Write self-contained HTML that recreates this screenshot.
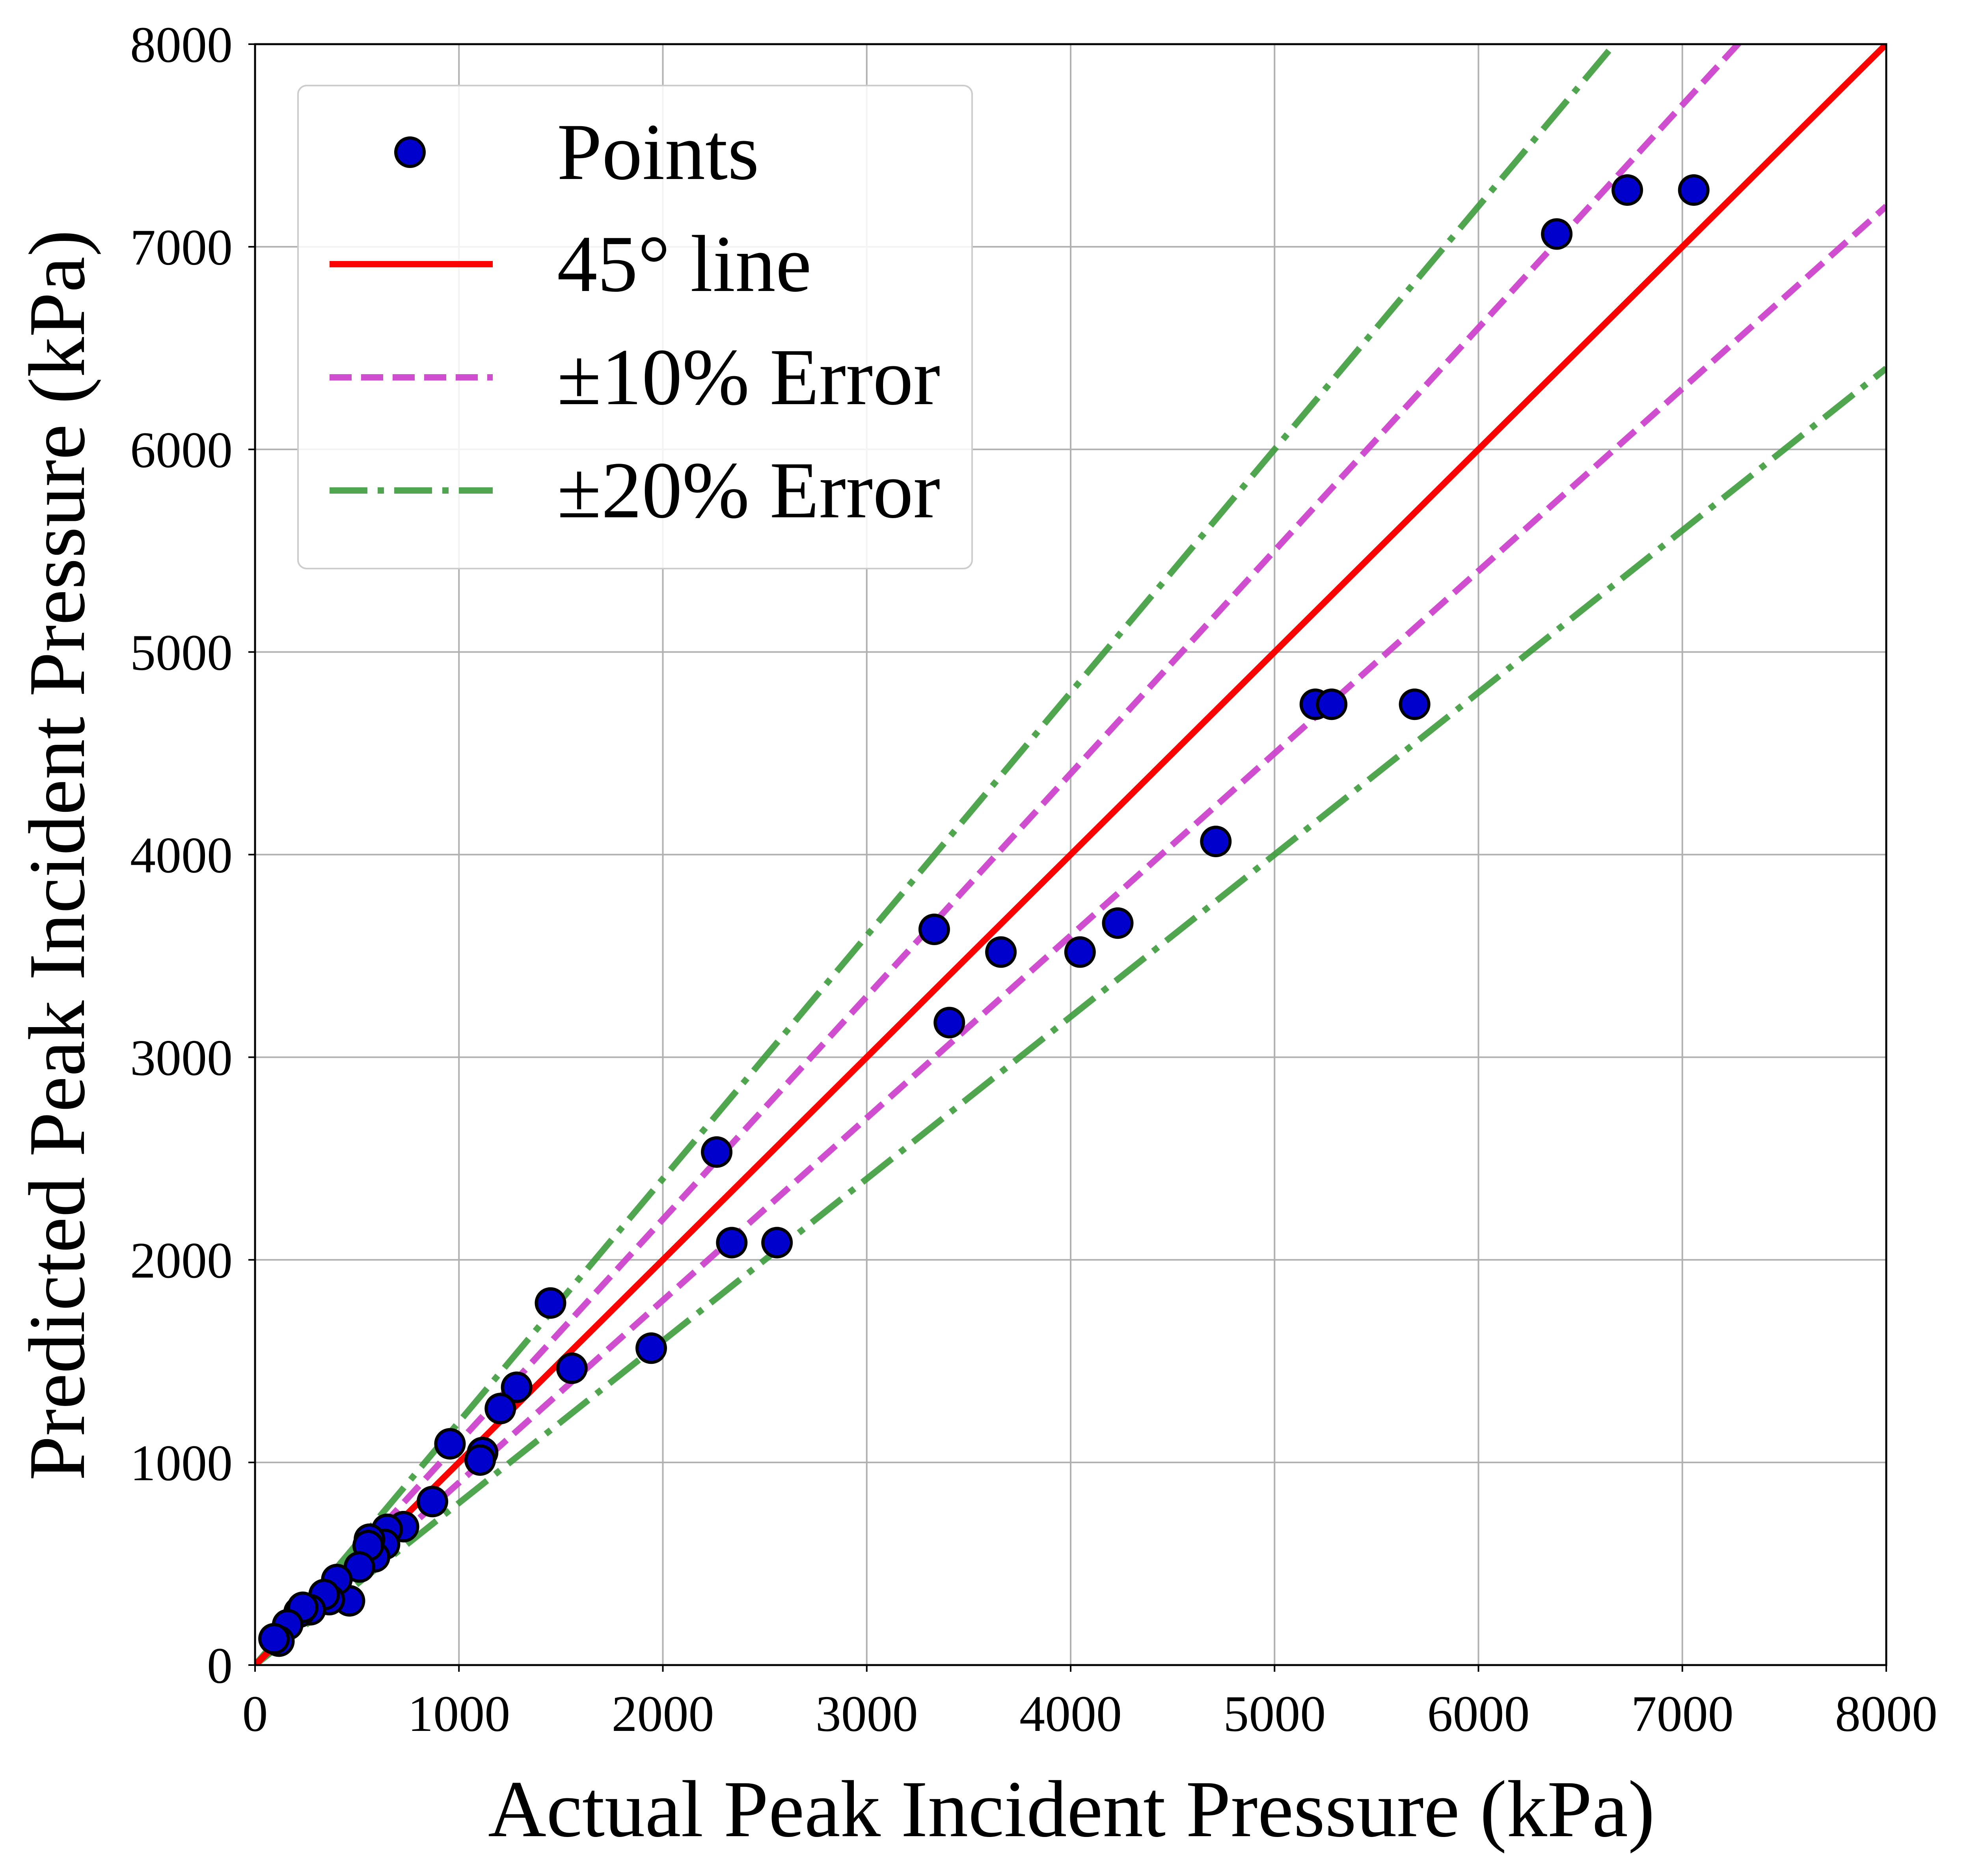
<!DOCTYPE html>
<html><head><meta charset="utf-8">
<style>
html,body{margin:0;padding:0;background:#fff;}
svg{display:block;}
text{font-family:"Liberation Serif",serif;fill:#000;}
</style></head>
<body>
<svg id="chart" xmlns="http://www.w3.org/2000/svg" width="5061" height="4758" viewBox="0 0 5061 4758">
<defs><clipPath id="plotclip"><rect x="647" y="112" width="4138" height="4111"/></clipPath></defs>
<rect width="5061" height="4758" fill="#fff"/>
<g id="grid"></g>
<g id="lines" clip-path="url(#plotclip)"></g>
<g id="points"></g>
<rect x="647" y="112" width="4138" height="4111" fill="none" stroke="#000" stroke-width="5"/>
<g id="ticks"></g>
<text x="2718" y="4657" font-size="205" text-anchor="middle">Actual Peak Incident Pressure (kPa)</text>
<text x="0" y="0" font-size="204" text-anchor="middle" transform="translate(213,2169) rotate(-90)">Predicted Peak Incident Pressure (kPa)</text>
<g id="legend">
<rect x="756" y="217" width="1710" height="1225" rx="22" fill="#fff" fill-opacity="0.85" stroke="#ccc" stroke-width="4"/>
<circle cx="1040" cy="386" r="36" fill="#0000cc" stroke="#000" stroke-width="8"/>
<text x="1413" y="454" font-size="205">Points</text>
<line x1="836" y1="670" x2="1250" y2="670" stroke="#ff0000" stroke-width="16"/>
<text x="1413" y="738" font-size="205">45° line</text>
<line x1="836" y1="957" x2="1250" y2="957" stroke="#cc44cc" stroke-opacity="0.95" stroke-width="16" stroke-dasharray="56,24"/>
<text x="1413" y="1025" font-size="205">±10% Error</text>
<line x1="836" y1="1244" x2="1250" y2="1244" stroke="#3c9c3c" stroke-opacity="0.9" stroke-width="16" stroke-dasharray="96,26,16,26"/>
<text x="1413" y="1312" font-size="205">±20% Error</text>
</g>
</svg>
<script>
const actualValues = [6384,6730,7056,5200,5280,5687,4712,4231,4046,3658,3331,3405,2264,2338,2560,1943,1449,1554,1283,1203,956,1116,1104,870,728,648,635,586,561,555,512,463,401,364,339,271,216,234,160,117,93];
const predictedValues = [7063,7280,7280,4742,4742,4742,4065,3662,3519,3519,3631,3171,2532,2085,2085,1564,1787,1465,1371,1266,1092,1049,1012,807,683,670,596,534,621,590,484,317,422,323,348,273,261,285,199,118,130];
const xTicks = [0,1000,2000,3000,4000,5000,6000,7000,8000];
const yTicks = [0,1000,2000,3000,4000,5000,6000,7000,8000];
const errorFactors = [1.1,0.9,1.2,0.8];

const X0=647,X1=4785,Y0=4223,Y1=112,MAXV=8000;
function sx(v){return X0+(v/MAXV)*(X1-X0);}
function sy(v){return Y0-(v/MAXV)*(Y0-Y1);}
const NS="http://www.w3.org/2000/svg";
function mk(tag,attrs,parent){const e=document.createElementNS(NS,tag);for(const k in attrs)e.setAttribute(k,attrs[k]);parent.appendChild(e);return e;}

const grid=document.getElementById('grid'),ticks=document.getElementById('ticks');
xTicks.forEach(t=>{
  const g=mk('line',{x1:sx(t),x2:sx(t),y1:Y1,y2:Y0,stroke:'#b0b0b0','stroke-width':4},grid);
  
  
  const tk=mk('line',{x1:sx(t),x2:sx(t),y1:Y0,y2:Y0+17,stroke:'#000','stroke-width':4},ticks);
  
  
  const tl=mk('text',{x:sx(t),y:4390,'font-size':130,'text-anchor':'middle'},ticks);
  tl.textContent=t;
  
  
});
yTicks.forEach(t=>{
  const g=mk('line',{x1:X0,x2:X1,y1:sy(t),y2:sy(t),stroke:'#b0b0b0','stroke-width':4},grid);
  
  
  const tk=mk('line',{x1:X0-17,x2:X0,y1:sy(t),y2:sy(t),stroke:'#000','stroke-width':4},ticks);
  
  
  const tl=mk('text',{x:590,y:sy(t)+45,'font-size':130,'text-anchor':'end'},ticks);
  tl.textContent=t;
  
  
});

const lines=document.getElementById('lines');
errorFactors.forEach(f=>{
  const is10=Math.abs(f-1)<0.15;
  const l=mk('line',{x1:sx(0),y1:sy(0),x2:sx(MAXV),y2:sy(MAXV*f),
    stroke:is10?'#cc44cc':'#3c9c3c','stroke-opacity':is10?0.95:0.9,'stroke-width':16,
    'stroke-dasharray':is10?'56,24':'96,26,16,26'},lines);
  
  
});
const diag=mk('line',{x1:sx(0),y1:sy(0),x2:sx(MAXV),y2:sy(MAXV),stroke:'#ff0000','stroke-width':16},lines);



const pts=document.getElementById('points');
actualValues.forEach((a,i)=>{
  const c=mk('circle',{cx:sx(a),cy:sy(predictedValues[i]),r:36,fill:'#0000cc',stroke:'#000','stroke-width':8},pts);
  
  
});
</script>
</body></html>
